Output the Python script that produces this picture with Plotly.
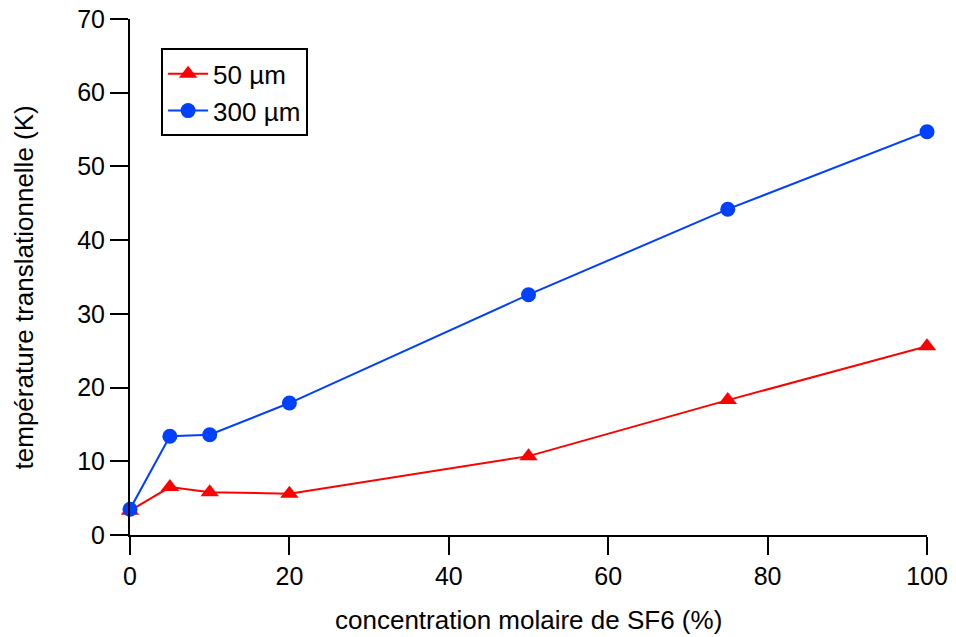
import plotly.graph_objects as go

concentration = [0, 5, 10, 20, 50, 75, 100]
temp_50um = [3.3, 6.5, 5.8, 5.6, 10.7, 18.3, 25.6]
temp_300um = [3.5, 13.4, 13.6, 17.9, 32.6, 44.2, 54.7]

x_ticks = [0, 20, 40, 60, 80, 100]
y_ticks = [0, 10, 20, 30, 40, 50, 60, 70]

x_title = "concentration molaire de SF6 (%)"
y_title = "température translationnelle (K)"

font_family = "Liberation Sans, Arial, sans-serif"

fig = go.Figure()
fig.add_trace(go.Scatter(
    x=concentration, y=temp_50um, mode="lines+markers", name="50 µm",
    line=dict(color="#ff0000", width=2),
    marker=dict(symbol="triangle-up", size=16, color="#ff0000"),
    cliponaxis=False,
))
fig.add_trace(go.Scatter(
    x=concentration, y=temp_300um, mode="lines+markers", name="300 µm",
    line=dict(color="#0040ff", width=2),
    marker=dict(symbol="circle", size=15, color="#0040ff"),
    cliponaxis=False,
))

axis_common = dict(
    showgrid=False, zeroline=False, showline=True, linecolor="black", linewidth=2,
    ticks="outside", ticklen=18, tickwidth=2, tickcolor="black",
    tickfont=dict(size=25, color="black", family=font_family),
    automargin=False, ticklabeloverflow="allow",
)

# the page body adds an 8px offset, so the figure is 8px smaller than the window
fig.update_layout(
    width=948, height=629,
    margin=dict(l=122, r=29, t=11, b=102, pad=0),
    plot_bgcolor="white", paper_bgcolor="white",
    font=dict(family=font_family, size=26, color="black"),
    xaxis=dict(range=[0, 100], tickvals=x_ticks, **axis_common),
    yaxis=dict(range=[0, 70], tickvals=y_ticks, **axis_common),
    legend=dict(x=0.039, y=0.943, xanchor="left", yanchor="top",
                bordercolor="black", borderwidth=2, bgcolor="white",
                font=dict(size=26, family=font_family), tracegroupgap=0,
                itemwidth=40),
    showlegend=True,
    annotations=[
        dict(text=x_title, xref="paper", yref="paper", x=0.5, y=-0.165,
             xanchor="center", yanchor="middle", showarrow=False,
             font=dict(size=26, family=font_family, color="black")),
        dict(text=y_title, xref="paper", yref="paper", x=-0.1335, y=0.479,
             xanchor="center", yanchor="middle", showarrow=False, textangle=-90,
             font=dict(size=26, family=font_family, color="black")),
    ],
)

fig.write_html("out.html")
